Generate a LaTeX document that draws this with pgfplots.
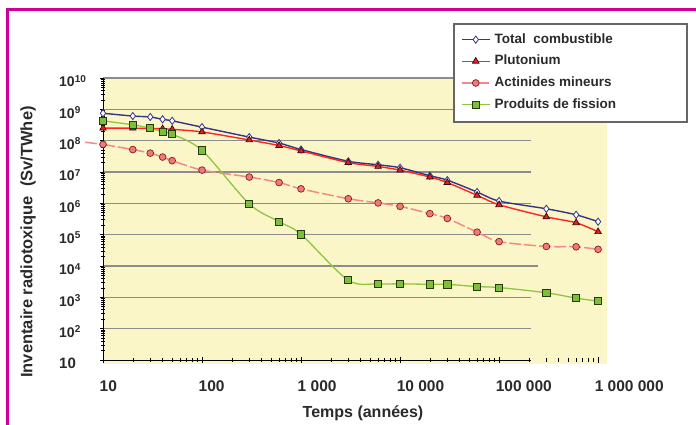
\documentclass[border=0pt]{standalone}
\usepackage{pgfplots}
\pgfplotsset{compat=1.18}
\usepackage{fontspec}
\setmainfont{Liberation Sans}
\definecolor{magentaframe}{HTML}{CC0099}
\definecolor{bgyellow}{HTML}{FAF6C8}
\definecolor{gridgray}{HTML}{8C8C8C}
\definecolor{navy}{HTML}{34348A}
\definecolor{pured}{HTML}{FF2424}
\definecolor{trifill}{HTML}{E51E1E}
\definecolor{triedge}{HTML}{3A0808}
\definecolor{pinkline}{HTML}{F28A8A}
\definecolor{circfill}{HTML}{EE7A7A}
\definecolor{circedge}{HTML}{8B1A1A}
\definecolor{greenline}{HTML}{8DC63F}
\definecolor{sqfill}{HTML}{7DBE3A}
\definecolor{sqedge}{HTML}{263A0E}
\definecolor{txt}{HTML}{2A2A2A}
\newcommand{\tp}[1]{10\raisebox{4.8pt}{\fontsize{10}{10}\selectfont #1}}

\begin{document}
\begin{tikzpicture}[x=1pt,y=1pt]
\useasboundingbox (0,0) rectangle (696,425);
\fill[bgyellow] (103,61) rectangle (607,347);
\draw[magentaframe, line width=3pt] (7,0) -- (7,415.5) -- (697,415.5);
\begin{axis}[
  at={(103pt,65pt)}, anchor=south west,
  scale only axis, width=504pt, height=282pt,
  xmode=log, ymode=log,
  xmin=10, xmax=1.2303e6, ymin=10, ymax=1e10,
  axis line style={draw=none},
  xtick pos=lower, ytick pos=lower,
  tick align=center,
  major tick length=6pt, minor tick length=3.5pt,
  every tick/.style={black, line width=0.6pt},
  xtick={10,100,1000,10000,100000,1000000},
  xticklabels={10,100,1 000,10 000,100 000,1 000 000},
  ytick={1e1,1e2,1e3,1e4,1e5,1e6,1e7,1e8,1e9,1e10},
  yticklabels={{\fontsize{15}{15}\selectfont 10},\tp{2},\tp{3},\tp{4},\tp{5},\tp{6},\tp{7},\tp{8},\tp{9},\tp{10}},
  xticklabel style={font=\bfseries\fontsize{15.5}{15.5}\selectfont, text=txt, anchor=base west, inner sep=0pt, yshift=-28.3pt, xshift=-3.5pt},
  yticklabel style={font=\bfseries\fontsize{14}{14}\selectfont, text=txt, anchor=base west, inner sep=0pt, yshift=-9pt, xshift=-41pt},
  clip=false,
  legend image code/.code={\draw[mark repeat=2,mark phase=2,#1] plot coordinates {(0pt,0pt) (14pt,0pt) (28pt,0pt)};},
  legend cell align=left,
  legend style={at={(axis description cs:0.71032,1.1585)}, anchor=north west, draw=none, fill=none, inner sep=0pt, outer sep=0pt, row sep=9.1pt, font=\bfseries\fontsize{13.5}{13.5}\selectfont, text=txt, nodes={inner sep=0pt, text height=9.7pt, text depth=2.9pt}, /tikz/every odd column/.append style={column sep=4pt}},
]
\pgfplotsinvokeforeach{2,3,5,6,7,8,9,10}{\draw[gridgray, line width=1.3pt] (axis cs:10,1e#1) -- (axis cs:2.1e5,1e#1);}
\draw[gridgray, line width=1.3pt] (axis cs:10,1e4) -- (axis cs:2.45e5,1e4);
\draw[black, line width=0.8pt] (axis cs:10,10) -- (axis cs:2.1e5,10);
\draw[black, line width=0.8pt] (axis cs:10,10) -- (axis cs:10,1e10);
\draw[draw=gray!80!black, line width=1.3pt, fill=white] (rel axis cs:0.69643,0.84397) rectangle (rel axis cs:1.15873,1.19149);

\addplot[navy, line width=1.4pt, smooth, tension=0.45, mark=diamond*, mark size=3.6pt, mark options={solid, fill=white, draw=navy, line width=0.8pt}] coordinates {
(10,7.5e8) (20,6.1e8) (30,5.7e8) (40,4.8e8) (50,4.3e8) (100,2.7e8) (300,1.3e8) (600,8.4e7) (1000,5.2e7) (3000,2.2e7) (6000,1.7e7) (10000,1.37e7) (20000,7.6e6) (30000,5.5e6) (60000,2.3e6) (100000,1.18e6) (300000,6.7e5) (600000,4.3e5) (1000000,2.6e5)};
\addlegendentry{Total\ \ combustible}

\addplot[pured, line width=1.4pt, smooth, tension=0.45, mark=triangle*, mark size=3.8pt, mark options={solid, fill=trifill, draw=triedge, line width=0.7pt}] coordinates {
(10,2.5e8) (20,2.5e8) (30,2.45e8) (40,2.4e8) (50,2.3e8) (100,1.9e8) (300,1.05e8) (600,7e7) (1000,4.7e7) (3000,2.0e7) (6000,1.5e7) (10000,1.15e7) (20000,6.9e6) (30000,4.6e6) (60000,1.8e6) (100000,9e5) (300000,3.7e5) (600000,2.4e5) (1000000,1.24e5)};
\addlegendentry{Plutonium}

\addplot[pinkline, line width=1.5pt, dash pattern=on 12pt off 3pt, forget plot] coordinates {(6.6,8.9e7) (10,7.6e7)};
\addplot[pinkline, line width=1.5pt, smooth, tension=0.45, dash pattern=on 12pt off 3pt, mark=*, mark size=3.4pt, mark options={solid, fill=circfill, draw=circedge, line width=0.7pt}] coordinates {
(10,7.6e7) (20,5.2e7) (30,4e7) (40,3e7) (50,2.3e7) (100,1.15e7) (300,6.9e6) (600,4.6e6) (1000,2.9e6) (3000,1.4e6) (6000,1.03e6) (10000,8e5) (20000,4.7e5) (30000,3.3e5) (60000,1.2e5) (100000,6e4) (300000,4.2e4) (600000,4.1e4) (1000000,3.4e4)};
\addlegendentry{Actinides mineurs}

\addplot[greenline, line width=1.3pt, smooth, tension=0.5, mark=square*, mark size=3.6pt, mark options={solid, fill=sqfill, draw=sqedge, line width=0.8pt}] coordinates {
(10,4.3e8) (20,3.2e8) (30,2.5e8) (40,1.9e8) (50,1.6e8) (100,4.9e7) (300,9.6e5) (600,2.6e5) (1000,1.02e5) (3000,3.5e3) (6000,2.7e3) (10000,2.7e3) (20000,2.6e3) (30000,2.6e3) (60000,2.2e3) (100000,2.05e3) (300000,1.4e3) (600000,9.4e2) (1000000,7.6e2)};
\addlegendentry{Produits de fission}
\end{axis}
\node[font=\bfseries\fontsize{16.5}{16.5}\selectfont, text=txt, rotate=90, anchor=center] at (28,183) {Inventaire radiotoxique\ \ (Sv/TWhe)};
\node[font=\bfseries\fontsize{16}{16}\selectfont, text=txt, anchor=base] at (363,7) {Temps (années)};
\end{tikzpicture}
\end{document}
